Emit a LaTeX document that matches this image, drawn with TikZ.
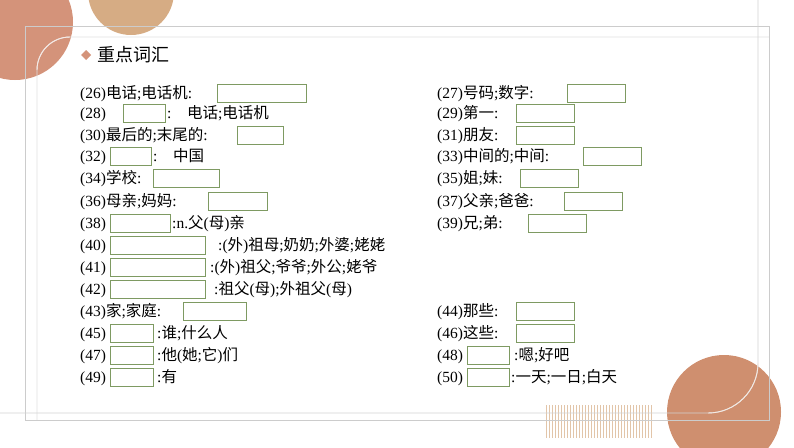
\documentclass[tikz,border=0pt]{standalone}
\usepackage{fontspec}
\setmainfont{Liberation Serif}
\newfontfamily\cjk{Noto Sans CJK SC}
\begin{document}
\begin{tikzpicture}[x=1pt,y=-1pt,
  lbl/.style={anchor=base west,inner sep=0pt,font=\fontsize{15.5}{15.5}\selectfont},
  bx/.style={draw=boxg,line width=0.8pt,minimum height=18pt,inner sep=0pt},
  frame/.style={draw=gray!40,line width=0.9pt}]
\definecolor{boxg}{HTML}{7E9A62}
\definecolor{cA}{HTML}{D4937A}
\definecolor{cB}{HTML}{D6AC84}
\definecolor{cC}{HTML}{CF8F6F}
\useasboundingbox (0,0) rectangle (794,447);
\fill[cA] (15,22) circle (58);
\fill[cB] (131,-8) circle (43);
\fill[cC] (724,412) circle (57);
\foreach \i in {0,...,35} \draw[cB!70,line width=0.6pt] (546+\i*3,405) -- (546+\i*3,438);
\draw[frame] (25,26) rectangle (769,420);
\draw[gray!25,line width=0.9pt] (37,420) -- (37,70) arc[start angle=180,end angle=270,radius=33] -- (769,37);
\draw[white!80!cA,line width=0.9pt] (37,70) arc[start angle=180,end angle=270,radius=33];
\draw[gray!35,line width=0.9pt] (758,0) -- (758,363) arc[start angle=0,end angle=90,radius=50] -- (0,413);
\draw[white!80!cC,line width=0.9pt] (758,363) arc[start angle=0,end angle=90,radius=50];
\fill[cA] (86,50) -- (91,55) -- (86,60) -- (81,55) -- cycle;
\node[anchor=west,inner sep=0pt,font=\cjk\fontsize{18}{18}\selectfont] (title) at (97,55) {重点词汇};
\newcommand\pre[3]{\node[lbl] (p#1) at (#2) {#3};}
\newcommand\bxx[4]{\node[bx,minimum width=#3pt-#2pt] (b#1) at ({(#2+#3)/2},#4) {};}
\newcommand\suf[3]{\node[lbl] (s#1) at (#2) {#3};}
\def\o{5}
% left column
\pre{26}{80,98}{(26){\cjk 电话}{;}{\cjk 电话机}:}\bxx{26}{217}{306}{93}
\pre{28}{80,118}{(28)}\bxx{28}{123}{165}{113}\suf{28}{167,118}{:\quad{\cjk 电话}{;}{\cjk 电话机}}
\pre{30}{80,140}{(30){\cjk 最后的}{;}{\cjk 末尾的}:}\bxx{30}{237}{283}{135}
\pre{32}{80,161}{(32)}\bxx{32}{110}{151}{156}\suf{32}{153,161}{:\quad{\cjk 中国}}
\pre{34}{80,183}{(34){\cjk 学校}:}\bxx{34}{153}{219}{178}
\pre{36}{80,206}{(36){\cjk 母亲}{;}{\cjk 妈妈}:}\bxx{36}{208}{267}{201}
\pre{38}{80,228}{(38)}\bxx{38}{110}{170}{223}\suf{38}{172,228}{:n.{\cjk 父}({\cjk 母}){\cjk 亲}}
\pre{40}{80,250}{(40)}\bxx{40}{110}{205}{245}\suf{40}{218,250}{:({\cjk 外}){\cjk 祖母}{;}{\cjk 奶奶}{;}{\cjk 外婆}{;}{\cjk 姥姥}}
\pre{41}{80,272}{(41)}\bxx{41}{110}{205}{267}\suf{41}{210,272}{:({\cjk 外}){\cjk 祖父}{;}{\cjk 爷爷}{;}{\cjk 外公}{;}{\cjk 姥爷}}
\pre{42}{80,294}{(42)}\bxx{42}{110}{205}{289}\suf{42}{214,294}{:{\cjk 祖父}({\cjk 母}){;}{\cjk 外祖父}({\cjk 母})}
\pre{43}{80,316}{(43){\cjk 家}{;}{\cjk 家庭}:}\bxx{43}{183}{246}{311}
\pre{45}{80,338}{(45)}\bxx{45}{110}{153}{333}\suf{45}{157,338}{:{\cjk 谁}{;}{\cjk 什么人}}
\pre{47}{80,360}{(47)}\bxx{47}{110}{153}{355}\suf{47}{157,360}{:{\cjk 他}({\cjk 她}{;}{\cjk 它}){\cjk 们}}
\pre{49}{80,382}{(49)}\bxx{49}{110}{153}{377}\suf{49}{157,382}{:{\cjk 有}}
% right column
\pre{27}{437,98}{(27){\cjk 号码}{;}{\cjk 数字}:}\bxx{27}{567}{625}{93}
\pre{29}{437,118}{(29){\cjk 第一}:}\bxx{29}{516}{574}{113}
\pre{31}{437,140}{(31){\cjk 朋友}:}\bxx{31}{516}{574}{135}
\pre{33}{437,161}{(33){\cjk 中间的}{;}{\cjk 中间}:}\bxx{33}{583}{641}{156}
\pre{35}{437,183}{(35){\cjk 姐}{;}{\cjk 妹}:}\bxx{35}{520}{578}{178}
\pre{37}{437,206}{(37){\cjk 父亲}{;}{\cjk 爸爸}:}\bxx{37}{564}{622}{201}
\pre{39}{437,228}{(39){\cjk 兄}{;}{\cjk 弟}:}\bxx{39}{528}{586}{223}
\pre{44}{437,316}{(44){\cjk 那些}:}\bxx{44}{516}{574}{311}
\pre{46}{437,338}{(46){\cjk 这些}:}\bxx{46}{516}{574}{333}
\pre{48}{437,360}{(48)}\bxx{48}{467}{509}{355}\suf{48}{514,360}{:{\cjk 嗯}{;}{\cjk 好吧}}
\pre{50}{437,382}{(50)}\bxx{50}{467}{509}{377}\suf{50}{511,382}{:{\cjk 一天}{;}{\cjk 一日}{;}{\cjk 白天}}
\end{tikzpicture}
\end{document}
